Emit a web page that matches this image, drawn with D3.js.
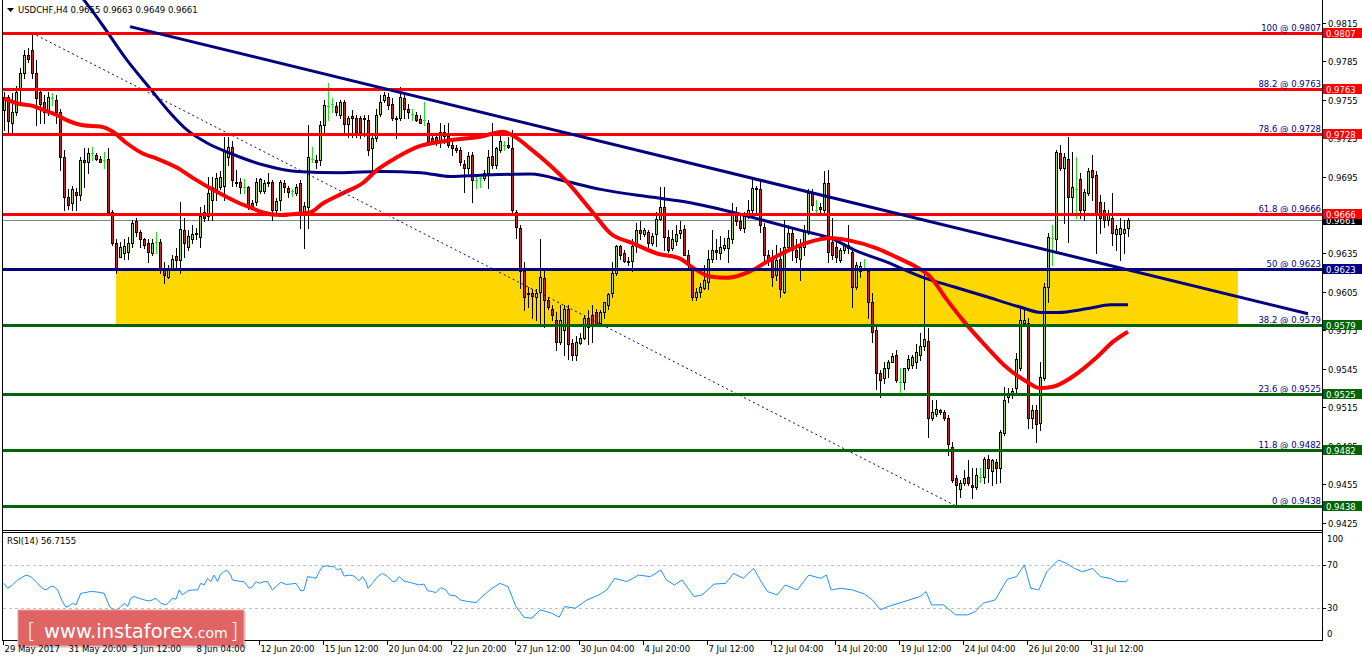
<!DOCTYPE html>
<html><head><meta charset="utf-8">
<script src="https://cdn.jsdelivr.net/npm/d3@7"></script>
<style>
html,body{margin:0;padding:0;background:#fff;overflow:hidden;}
svg{display:block;}
text{font-family:"DejaVu Sans",Verdana,sans-serif;font-size:8.5px;}
</style></head><body>
<svg id="c" width="1362" height="661"></svg>
<script>
// ---------------- data ----------------
const symbol = "USDCHF,H4";
const lastBar = [0.9655, 0.9663, 0.9649, 0.9661];
const opens = [0.9747,0.9757,0.9737,0.9745,0.9763,0.9776,0.9790,0.9794,0.9776,0.9761,
0.9753,0.9747,0.9756,0.9755,0.9745,0.9710,0.9679,0.9674,0.9683,0.9681,
0.9708,0.9706,0.9713,0.9712,0.9709,0.9708,0.9709,0.9667,0.9643,0.9632,
0.9635,0.9636,0.9643,0.9660,0.9652,0.9646,0.9643,0.9635,0.9644,0.9644,
0.9624,0.9617,0.9624,0.9633,0.9630,0.9653,0.9640,0.9646,0.9651,0.9648,
0.9667,0.9664,0.9677,0.9685,0.9687,0.9688,0.9710,0.9718,0.9691,0.9691,
0.9687,0.9687,0.9674,0.9675,0.9684,0.9684,0.9691,0.9691,0.9669,0.9677,
0.9690,0.9686,0.9684,0.9682,0.9690,0.9667,0.9671,0.9709,0.9708,0.9708,
0.9735,0.9750,0.9752,0.9750,0.9743,0.9753,0.9736,0.9742,0.9741,0.9741,
0.9741,0.9739,0.9717,0.9725,0.9744,0.9755,0.9757,0.9752,0.9741,0.9741,
0.9756,0.9748,0.9744,0.9743,0.9740,0.9739,0.9737,0.9725,0.9726,0.9722,
0.9730,0.9727,0.9720,0.9717,0.9716,0.9705,0.9702,0.9712,0.9692,0.9694,
0.9694,0.9698,0.9711,0.9704,0.9716,0.9720,0.9720,0.9717,0.9667,0.9655,
0.9621,0.9604,0.9604,0.9601,0.9605,0.9616,0.9599,0.9592,0.9583,0.9566,
0.9575,0.9592,0.9565,0.9556,0.9565,0.9569,0.9585,0.9587,0.9589,0.9581,
0.9589,0.9595,0.9604,0.9620,0.9641,0.9635,0.9629,0.9629,0.9641,0.9653,
0.9650,0.9652,0.9643,0.9650,0.9662,0.9671,0.9648,0.9639,0.9645,0.9651,
0.9654,0.9634,0.9622,0.9601,0.9605,0.9608,0.9613,0.9631,0.9638,0.9635,
0.9639,0.9639,0.9646,0.9667,0.9660,0.9655,0.9665,0.9669,0.9686,0.9685,
0.9656,0.9634,0.9630,0.9618,0.9631,0.9605,0.9640,0.9651,0.9638,0.9631,
0.9640,0.9652,0.9682,0.9669,0.9671,0.9669,0.9690,0.9644,0.9640,0.9630,
0.9638,0.9642,0.9636,0.9609,0.9621,0.9624,0.9621,0.9597,0.9575,0.9542,
0.9538,0.9546,0.9550,0.9556,0.9535,0.9535,0.9546,0.9548,0.9550,0.9556,
0.9563,0.9567,0.9507,0.9510,0.9513,0.9511,0.9507,0.9484,0.9460,0.9451,
0.9456,0.9461,0.9454,0.9453,0.9461,0.9461,0.9475,0.9465,0.9472,0.9468,
0.9495,0.9523,0.9525,0.9530,0.9546,0.9581,0.9581,0.9507,0.9513,0.9503,
0.9538,0.9609,0.9647,0.9646,0.9713,0.9702,0.9709,0.9679,0.9685,0.9693,
0.9669,0.9682,0.9700,0.9696,0.9675,0.9669,0.9661,0.9663,0.9650,0.9650,
0.9651,0.9655];
const highs = [0.9761,0.9759,0.9760,0.9766,0.9780,0.9794,0.9795,0.9807,0.9786,0.9764,
0.9759,0.9761,0.9760,0.9759,0.9748,0.9716,0.9685,0.9688,0.9686,0.9710,
0.9717,0.9717,0.9718,0.9713,0.9711,0.9714,0.9717,0.9669,0.9646,0.9644,
0.9646,0.9648,0.9661,0.9663,0.9653,0.9647,0.9646,0.9646,0.9652,0.9646,
0.9628,0.9626,0.9634,0.9639,0.9675,0.9663,0.9653,0.9657,0.9655,0.9671,
0.9673,0.9695,0.9695,0.9698,0.9699,0.9726,0.9726,0.9723,0.9700,0.9694,
0.9693,0.9688,0.9677,0.9694,0.9694,0.9692,0.9698,0.9692,0.9678,0.9692,
0.9692,0.9688,0.9685,0.9689,0.9692,0.9675,0.9735,0.9718,0.9712,0.9738,
0.9755,0.9768,0.9756,0.9753,0.9755,0.9755,0.9742,0.9747,0.9743,0.9742,
0.9743,0.9743,0.9727,0.9748,0.9759,0.9761,0.9760,0.9756,0.9742,0.9765,
0.9759,0.9752,0.9748,0.9745,0.9743,0.9753,0.9739,0.9727,0.9727,0.9737,
0.9735,0.9737,0.9722,0.9720,0.9718,0.9708,0.9714,0.9714,0.9695,0.9695,
0.9700,0.9716,0.9737,0.9718,0.9730,0.9723,0.9726,0.9731,0.9669,0.9657,
0.9628,0.9609,0.9607,0.9607,0.9646,0.9622,0.9601,0.9595,0.9589,0.9595,
0.9595,0.9595,0.9568,0.9571,0.9573,0.9587,0.9591,0.9595,0.9592,0.9591,
0.9597,0.9604,0.9628,0.9642,0.9642,0.9638,0.9632,0.9646,0.9659,0.9660,
0.9655,0.9653,0.9651,0.9667,0.9687,0.9687,0.9653,0.9653,0.9657,0.9660,
0.9657,0.9638,0.9624,0.9608,0.9612,0.9626,0.9638,0.9653,0.9646,0.9649,
0.9647,0.9653,0.9674,0.9671,0.9665,0.9667,0.9677,0.9692,0.9688,0.9692,
0.9659,0.9638,0.9638,0.9642,0.9639,0.9661,0.9657,0.9655,0.9646,0.9646,
0.9657,0.9685,0.9685,0.9677,0.9674,0.9699,0.9700,0.9663,0.9644,0.9639,
0.9643,0.9657,0.9639,0.9628,0.9628,0.9631,0.9624,0.9604,0.9579,0.9544,
0.9550,0.9552,0.9557,0.9560,0.9546,0.9546,0.9556,0.9556,0.9564,0.9573,
0.9621,0.9577,0.9521,0.9521,0.9514,0.9513,0.9509,0.9488,0.9462,0.9458,
0.9466,0.9474,0.9468,0.9468,0.9468,0.9476,0.9478,0.9475,0.9475,0.9497,
0.9531,0.9530,0.9530,0.9557,0.9593,0.9591,0.9585,0.9517,0.9517,0.9550,
0.9612,0.9651,0.9657,0.9716,0.9720,0.9713,0.9726,0.9714,0.9710,0.9698,
0.9685,0.9702,0.9712,0.9699,0.9681,0.9675,0.9669,0.9682,0.9657,0.9663,
0.9661,0.9663];
const lows = [0.9731,0.9730,0.9730,0.9743,0.9752,0.9772,0.9784,0.9772,0.9735,0.9737,
0.9737,0.9743,0.9751,0.9737,0.9700,0.9669,0.9670,0.9669,0.9669,0.9677,
0.9687,0.9698,0.9708,0.9708,0.9706,0.9702,0.9665,0.9642,0.9620,0.9632,
0.9631,0.9631,0.9640,0.9649,0.9640,0.9639,0.9628,0.9634,0.9635,0.9620,
0.9612,0.9616,0.9622,0.9624,0.9620,0.9632,0.9638,0.9643,0.9646,0.9640,
0.9660,0.9661,0.9661,0.9677,0.9685,0.9677,0.9704,0.9688,0.9688,0.9682,
0.9682,0.9670,0.9670,0.9673,0.9682,0.9682,0.9688,0.9661,0.9667,0.9669,
0.9683,0.9679,0.9680,0.9681,0.9655,0.9639,0.9655,0.9706,0.9702,0.9704,
0.9729,0.9739,0.9745,0.9743,0.9741,0.9730,0.9726,0.9726,0.9726,0.9725,
0.9727,0.9712,0.9699,0.9723,0.9742,0.9753,0.9748,0.9739,0.9725,0.9739,
0.9741,0.9741,0.9739,0.9738,0.9737,0.9735,0.9721,0.9722,0.9720,0.9718,
0.9721,0.9718,0.9712,0.9714,0.9704,0.9683,0.9698,0.9675,0.9686,0.9687,
0.9692,0.9686,0.9702,0.9702,0.9714,0.9716,0.9717,0.9667,0.9647,0.9608,
0.9591,0.9593,0.9585,0.9583,0.9579,0.9578,0.9592,0.9583,0.9560,0.9564,
0.9556,0.9553,0.9552,0.9552,0.9564,0.9568,0.9564,0.9566,0.9579,0.9579,
0.9585,0.9592,0.9601,0.9618,0.9631,0.9628,0.9626,0.9621,0.9636,0.9646,
0.9649,0.9638,0.9642,0.9641,0.9661,0.9638,0.9636,0.9638,0.9642,0.9647,
0.9634,0.9622,0.9599,0.9599,0.9601,0.9607,0.9607,0.9628,0.9631,0.9631,
0.9638,0.9628,0.9643,0.9657,0.9653,0.9652,0.9663,0.9667,0.9665,0.9652,
0.9628,0.9626,0.9610,0.9614,0.9601,0.9604,0.9638,0.9630,0.9628,0.9614,
0.9634,0.9650,0.9669,0.9665,0.9665,0.9667,0.9628,0.9631,0.9628,0.9628,
0.9635,0.9635,0.9593,0.9607,0.9617,0.9624,0.9585,0.9566,0.9529,0.9523,
0.9534,0.9539,0.9550,0.9535,0.9527,0.9529,0.9544,0.9546,0.9546,0.9552,
0.9560,0.9492,0.9505,0.9508,0.9510,0.9505,0.9478,0.9457,0.9438,0.9445,
0.9454,0.9454,0.9444,0.9451,0.9457,0.9456,0.9457,0.9454,0.9456,0.9457,
0.9493,0.9519,0.9522,0.9526,0.9544,0.9579,0.9499,0.9499,0.9488,0.9497,
0.9536,0.9597,0.9626,0.9638,0.9700,0.9659,0.9644,0.9665,0.9663,0.9663,
0.9661,0.9681,0.9677,0.9635,0.9651,0.9656,0.9657,0.9642,0.9638,0.9630,
0.9635,0.9649];
const closes = [0.9757,0.9738,0.9745,0.9761,0.9776,0.9790,0.9787,0.9776,0.9756,0.9752,
0.9745,0.9757,0.9756,0.9745,0.9710,0.9679,0.9673,0.9685,0.9681,0.9708,
0.9706,0.9713,0.9713,0.9709,0.9706,0.9708,0.9667,0.9643,0.9624,0.9640,
0.9641,0.9643,0.9659,0.9652,0.9646,0.9642,0.9636,0.9643,0.9644,0.9624,
0.9618,0.9624,0.9631,0.9630,0.9654,0.9643,0.9649,0.9650,0.9650,0.9664,
0.9663,0.9682,0.9687,0.9694,0.9695,0.9716,0.9718,0.9692,0.9690,0.9687,
0.9687,0.9671,0.9671,0.9691,0.9693,0.9690,0.9690,0.9669,0.9676,0.9691,
0.9687,0.9683,0.9684,0.9687,0.9667,0.9672,0.9710,0.9709,0.9706,0.9735,
0.9751,0.9750,0.9752,0.9745,0.9753,0.9736,0.9741,0.9741,0.9730,0.9730,
0.9740,0.9716,0.9725,0.9743,0.9753,0.9759,0.9751,0.9741,0.9740,0.9757,
0.9748,0.9745,0.9744,0.9739,0.9737,0.9739,0.9722,0.9723,0.9721,0.9730,
0.9727,0.9720,0.9717,0.9716,0.9706,0.9702,0.9711,0.9692,0.9692,0.9694,
0.9698,0.9710,0.9704,0.9717,0.9723,0.9720,0.9718,0.9669,0.9656,0.9621,
0.9601,0.9603,0.9602,0.9604,0.9617,0.9599,0.9593,0.9587,0.9566,0.9583,
0.9592,0.9564,0.9556,0.9566,0.9569,0.9585,0.9578,0.9579,0.9579,0.9589,
0.9597,0.9603,0.9620,0.9641,0.9634,0.9629,0.9628,0.9641,0.9653,0.9651,
0.9653,0.9643,0.9649,0.9662,0.9671,0.9648,0.9638,0.9646,0.9650,0.9653,
0.9634,0.9626,0.9601,0.9605,0.9609,0.9614,0.9631,0.9638,0.9636,0.9640,
0.9642,0.9647,0.9667,0.9660,0.9655,0.9665,0.9669,0.9686,0.9685,0.9657,
0.9634,0.9630,0.9617,0.9630,0.9607,0.9640,0.9651,0.9638,0.9632,0.9640,
0.9653,0.9682,0.9673,0.9669,0.9670,0.9690,0.9636,0.9634,0.9632,0.9638,
0.9642,0.9639,0.9609,0.9626,0.9625,0.9624,0.9597,0.9574,0.9542,0.9536,
0.9546,0.9550,0.9555,0.9536,0.9535,0.9546,0.9553,0.9554,0.9558,0.9563,
0.9568,0.9507,0.9511,0.9514,0.9511,0.9507,0.9486,0.9458,0.9454,0.9456,
0.9460,0.9456,0.9453,0.9462,0.9461,0.9475,0.9468,0.9474,0.9468,0.9496,
0.9521,0.9525,0.9528,0.9553,0.9583,0.9583,0.9507,0.9513,0.9502,0.9539,
0.9609,0.9648,0.9647,0.9714,0.9702,0.9710,0.9679,0.9687,0.9685,0.9669,
0.9683,0.9699,0.9695,0.9665,0.9663,0.9661,0.9665,0.9651,0.9654,0.9655,
0.9654,0.9661];

// moving averages: [bar index, price]
const fastMA = [[0,0.9756],[3.4,0.9752],[7.4,0.9750],[9.8,0.9747],[13.2,0.9743],[15.7,0.9739],[19.7,0.9735],[24,0.9734],[27.2,0.9730],[30.7,0.9721],[34.7,0.9713],[38.2,0.9709],[43.2,0.9702],[47.2,0.9694],[51.5,0.9686],[55.7,0.9679],[59,0.9674],[61.5,0.9671],[64.7,0.9667],[69,0.9665],[73.2,0.9666],[76.5,0.9667],[79.7,0.9674],[84.7,0.9682],[89.7,0.9690],[93.2,0.9700],[98.2,0.9710],[103.2,0.9718],[110.7,0.9723],[119,0.9726],[124.7,0.9730],[127.2,0.9727],[131.5,0.9717],[140.7,0.9691],[147.2,0.9667],[151.5,0.9651],[157.2,0.9643],[163.2,0.9635],[169,0.9631],[172.2,0.9624],[176.5,0.9617],[180.7,0.9616],[186.5,0.9621],[191.5,0.9630],[196.5,0.9638],[201.5,0.9644],[206.5,0.9647],[211.5,0.9645],[218.2,0.9639],[223.2,0.9632],[227.2,0.9626],[231.5,0.9617],[235.7,0.9599],[239.7,0.9583],[245.7,0.9562],[250.7,0.9546],[255.7,0.9535],[259,0.9530],[262.2,0.9531],[267.2,0.9539],[273.2,0.9554],[277.2,0.9566],[281,0.9574]];
const slowMA = [[17.7,0.9841],[19.9,0.9833],[24.2,0.9815],[30.7,0.9786],[36.7,0.9763],[40.9,0.9747],[45.9,0.9731],[50.9,0.9721],[56.7,0.9713],[64.9,0.9704],[73.2,0.9699],[84.2,0.9698],[94.2,0.9699],[104.2,0.9698],[111.7,0.9695],[119.2,0.9696],[131.7,0.9697],[140.9,0.9691],[149.2,0.9685],[161.7,0.9679],[170.9,0.9675],[182.4,0.9667],[190.9,0.9660],[199.2,0.9653],[207.4,0.9646],[212.4,0.9638],[220.9,0.9628],[229.2,0.9617],[237.4,0.9609],[245.9,0.9601],[254.2,0.9593],[259.2,0.9589],[263.4,0.9589],[270.9,0.9592],[276.7,0.9595],[281,0.9595]];

// RSI(14): [bar index, value]
const rsiPoints = [[0,53.0],[0.9,48.3],[2.1,51.4],[3.4,56.1],[5.5,60.7],[6.7,59.2],[8.4,53.0],[9.6,48.3],[10.5,46.8],[11.7,49.9],[12.5,49.9],[13.4,46.8],[14.6,35.9],[15.5,30.6],[16.3,31.9],[17.1,34.4],[18,32.8],[19.2,43.7],[20.5,44.3],[21.3,45.2],[22.5,45.2],[24.2,44.3],[25,43.7],[25.7,37.5],[26.5,30.6],[27.5,28.1],[28.4,28.1],[29.2,31.3],[30.2,34.4],[30.9,31.3],[31.7,39.0],[32.5,40.6],[33.8,39.0],[35,37.5],[36.3,36.5],[37.1,37.5],[38,39.0],[39.2,34.4],[40.5,32.8],[41.3,35.9],[42.1,39.0],[43,38.1],[43.8,46.8],[44.6,42.1],[45.9,45.8],[47.1,46.8],[48.4,46.8],[49.2,53.0],[50,51.4],[50.9,57.6],[51.7,54.5],[52.5,60.7],[53.4,54.5],[54,60.7],[54.9,63.8],[55.7,65.4],[56.7,60.7],[57.1,56.1],[58.4,55.1],[60,54.5],[61.3,48.3],[62.1,49.9],[63,54.5],[63.8,53.0],[65,54.5],[65.9,54.5],[67.1,46.8],[68,49.9],[69.2,53.9],[70.5,52.0],[71.7,52.3],[73,53.0],[74.2,45.8],[75,46.8],[75.9,59.2],[77.1,58.5],[78,57.6],[78.8,63.8],[79.6,68.5],[80.7,69.4],[81.7,68.5],[82.5,68.5],[83.4,65.4],[84.2,66.9],[85,59.8],[86.3,60.7],[87.5,59.8],[88.8,55.4],[89.6,59.2],[90.5,54.5],[91,48.3],[92.1,53.0],[93.4,59.2],[94.6,62.3],[95.9,59.2],[97.1,54.5],[98,55.1],[98.8,59.2],[100,55.1],[101.7,53.6],[103.8,51.4],[105,52.3],[105.9,46.2],[107.1,45.2],[108,44.3],[109.2,48.9],[110.5,46.8],[111.3,42.1],[113,41.2],[114,37.5],[116,35.9],[118,35.0],[120,42.1],[122,48.3],[124,52.9],[126,49.9],[128,31.3],[130,21.3],[132,20.4],[134,28.2],[136.9,25.1],[138.8,21.3],[140.2,31.3],[142.8,29.7],[145.8,37.5],[148.7,42.1],[150.7,46.8],[152.7,57.6],[155.7,54.5],[158.6,60.7],[161.6,59.2],[164.2,65.4],[165.6,56.1],[167.6,51.4],[169.5,56.1],[172.5,40.6],[174.5,42.1],[177.5,52.3],[180.4,52.9],[182.4,62.3],[184.8,57.6],[187.4,66.9],[189.3,54.5],[190.9,45.2],[193.3,42.1],[195.3,51.4],[198.3,46.8],[201.2,60.7],[204.2,57.6],[205.6,60.7],[206.8,46.8],[209.2,48.3],[212.1,46.8],[215.1,43.0],[217.1,37.5],[219.1,28.2],[221,31.3],[225,35.9],[229,40.6],[230.5,45.2],[231.9,32.8],[234.9,32.8],[237.9,23.5],[240.9,23.5],[242.8,26.6],[244.8,34.4],[247.8,37.5],[250.8,56.7],[253.1,59.2],[255.1,70.0],[256.7,48.3],[258.7,46.8],[260.7,63.8],[263.6,74.7],[265.6,71.6],[267.6,66.9],[269.6,63.8],[272.2,66.9],[274.1,59.2],[276.5,57.6],[278.5,54.5],[280.5,54.5],[281,56.7]];
const rsiLast = "56.7155";

const fibRatios = ["100","88.2","78.6","61.8","50","38.2","23.6","11.8","0"];
const fibPrices = [0.9807,0.9763,0.9728,0.9666,0.9623,0.9579,0.9525,0.9482,0.9438];
const fibAnchors = [[7,0.9807],[238,0.9438]];
const trendLine = [[31.5,0.9812],[326,0.9588]];
const zoneBars = [28,308.5];
const zonePrices = [0.9623,0.9579];
const bidPrice = 0.9661;

const priceTicks = [0.9815,0.9785,0.9755,0.9725,0.9695,0.9665,0.9635,0.9605,0.9575,0.9545,0.9515,0.9485,0.9455,0.9425];
const timeTickBars = [0,16,32,48,64,80,96,112,128,144,160,176,192,208,224,240,256,272];
const timeTickLabels = ["29 May 2017","31 May 20:00","5 Jun 12:00","8 Jun 04:00","12 Jun 20:00","15 Jun 12:00","20 Jun 04:00","22 Jun 20:00","27 Jun 12:00","30 Jun 04:00","4 Jul 20:00","7 Jul 12:00","12 Jul 04:00","14 Jul 20:00","19 Jul 12:00","24 Jul 04:00","26 Jul 20:00","31 Jul 12:00"];
const rsiTicks = [100,70,30,0];
const rsiLevels = [70,30];

// ---------------- styles ----------------
const fibColors = ["#ff0000","#ff0000","#ff0000","#ff0000","#000080","#006400","#006400","#006400","#006400"];
const BULL = "#a6d84a", BEAR = "#cc2222", DOJI = "#22dd22";

// ---------------- drawing ----------------
const svg = d3.select("#c");
const L = 3, R = 1322, MB = 530, RT = 533, RB = 640;
const x = d3.scaleLinear().domain([0, 281]).range([4, 1128]);
const y = d3.scaleLinear().domain([0.9807, 0.9438]).range([33, 506]);
const yr = d3.scaleLinear().domain([0, 100]).range([640, 533]);
const px = v => Math.round(v);

svg.append("rect").attr("width",1362).attr("height",661).attr("fill","#fff");
const defs = svg.append("defs");
defs.append("clipPath").attr("id","cm").append("rect").attr("x",L).attr("y",0).attr("width",R-L).attr("height",MB);
defs.append("clipPath").attr("id","cr").append("rect").attr("x",L).attr("y",RT).attr("width",R-L).attr("height",RB-RT);

const gm = svg.append("g").attr("clip-path","url(#cm)");

// zone
gm.append("rect")
  .attr("x", x(zoneBars[0])).attr("width", x(zoneBars[1]) - x(zoneBars[0]))
  .attr("y", y(zonePrices[0])).attr("height", y(zonePrices[1]) - y(zonePrices[0]))
  .attr("fill", "#ffd700");

// bid line
gm.append("line").attr("x1",L).attr("x2",R)
  .attr("y1",px(y(bidPrice))+0.5).attr("y2",px(y(bidPrice))+0.5)
  .attr("stroke","#778899").attr("stroke-width",1);

// candles
const bars = d3.range(opens.length).map(i => ({i, o:opens[i], h:highs[i], l:lows[i], c:closes[i]}));
const gc = gm.append("g").attr("shape-rendering","crispEdges");
bars.forEach(b => {
  const cx = px(x(b.i));
  const top = px(y(b.h)), bot = px(y(b.l));
  if (b.o === b.c) {
    gc.append("rect").attr("x",cx).attr("y",top).attr("width",1).attr("height",bot-top+1).attr("fill",DOJI);
    gc.append("rect").attr("x",cx-1).attr("y",px(y(b.o))).attr("width",3).attr("height",1).attr("fill",DOJI);
    return;
  }
  gc.append("rect").attr("x",cx).attr("y",top).attr("width",1).attr("height",bot-top+1).attr("fill","#000");
  const bt = px(y(Math.max(b.o,b.c))), bb = px(y(Math.min(b.o,b.c)));
  gc.append("rect").attr("x",cx-1).attr("y",bt).attr("width",3).attr("height",Math.max(1,bb-bt+1)).attr("fill","#000");
  if (bb - bt - 1 > 0)
    gc.append("rect").attr("x",cx).attr("y",bt+1).attr("width",1).attr("height",bb-bt-1).attr("fill", b.c > b.o ? BULL : BEAR);
});

// moving averages
const maLine = d3.line().x(d => x(d[0])).y(d => y(d[1])).curve(d3.curveMonotoneX);
gm.append("path").attr("d", maLine(slowMA)).attr("fill","none").attr("stroke","#000080").attr("stroke-width",3);
gm.append("path").attr("d", maLine(fastMA)).attr("fill","none").attr("stroke","#ff0000").attr("stroke-width",4);

// fib diagonal
gm.append("line")
  .attr("x1", x(fibAnchors[0][0])).attr("y1", y(fibAnchors[0][1]))
  .attr("x2", x(fibAnchors[1][0])).attr("y2", y(fibAnchors[1][1]))
  .attr("stroke","#000080").attr("stroke-width",1).attr("stroke-dasharray","2,3");

// fib horizontal levels
fibPrices.forEach((p, k) => {
  const yy = px(y(p)) + 0.5;
  gm.append("line").attr("x1",L).attr("x2",R).attr("y1",yy).attr("y2",yy)
    .attr("stroke", fibColors[k]).attr("stroke-width",3);
  gm.append("text").attr("x", R-1).attr("y", yy-3).attr("text-anchor","end")
    .attr("fill","#000080").text(fibRatios[k] + " @ " + p.toFixed(4));
});

// trend line
gm.append("line")
  .attr("x1", x(trendLine[0][0])).attr("y1", y(trendLine[0][1]))
  .attr("x2", x(trendLine[1][0])).attr("y2", y(trendLine[1][1]))
  .attr("stroke","#000080").attr("stroke-width",3);

// header
svg.append("path").attr("d","M7,8 L14,8 L10.5,12 Z").attr("fill","#000");
svg.append("text").attr("x",18).attr("y",13).attr("fill","#000")
  .text(symbol + "  " + lastBar.map(v => v.toFixed(4)).join(" "));

// frame
const fr = svg.append("g").attr("stroke","#000").attr("stroke-width",1).attr("shape-rendering","crispEdges");
fr.append("line").attr("x1",2.5).attr("x2",2.5).attr("y1",0).attr("y2",RB+0.5);
fr.append("line").attr("x1",R+0.5).attr("x2",R+0.5).attr("y1",0).attr("y2",RB+0.5);
fr.append("line").attr("x1",2.5).attr("x2",R+0.5).attr("y1",MB+0.5).attr("y2",MB+0.5);
fr.append("line").attr("x1",2.5).attr("x2",R+0.5).attr("y1",RT-0.5).attr("y2",RT-0.5);
fr.append("line").attr("x1",2.5).attr("x2",R+0.5).attr("y1",RB+0.5).attr("y2",RB+0.5);

// price axis
priceTicks.forEach(p => {
  const yy = px(y(p)) + 0.5;
  fr.append("line").attr("x1",R).attr("x2",R+4).attr("y1",yy).attr("y2",yy);
  svg.append("text").attr("x",R+6).attr("y",yy+3).attr("fill","#000").text(p.toFixed(4));
});
function tag(p, color) {
  const yy = px(y(p));
  svg.append("rect").attr("x",R+1).attr("y",yy-5).attr("width",39).attr("height",10).attr("fill",color);
  svg.append("text").attr("x",R+4).attr("y",yy+3.5).attr("fill","#fff").text(p.toFixed(4));
}
tag(bidPrice, "#000");
fibPrices.forEach((p,k) => tag(p, fibColors[k]));

// RSI panel
const gr = svg.append("g").attr("clip-path","url(#cr)");
rsiLevels.forEach(v => {
  gr.append("line").attr("x1",L).attr("x2",R).attr("y1",px(yr(v))+0.5).attr("y2",px(yr(v))+0.5)
    .attr("stroke","#c0c0c0").attr("stroke-dasharray","3,3");
});
gr.append("path").attr("d", d3.line().x(d => x(d[0])).y(d => yr(d[1]))(rsiPoints))
  .attr("fill","none").attr("stroke","#1e90ff").attr("stroke-width",1);
svg.append("text").attr("x",7).attr("y",544).attr("fill","#000").text("RSI(14) " + rsiLast);
rsiTicks.forEach(v => {
  const yy = Math.min(Math.max(yr(v), 539), 634);
  svg.append("text").attr("x",R+5).attr("y",yy+3).attr("fill","#000").text(v);
  if (v === 70 || v === 30) fr.append("line").attr("x1",R).attr("x2",R+4).attr("y1",px(yr(v))+0.5).attr("y2",px(yr(v))+0.5);
});

// watermark
const wm = svg.append("g");
wm.append("rect").attr("x",20).attr("y",612).attr("width",226).attr("height",36).attr("fill","#000").attr("opacity",0.15);
wm.append("rect").attr("x",18).attr("y",610).attr("width",226).attr("height",36).attr("fill","#e06464").attr("stroke","#f0a0a0").attr("stroke-width",1);
const wt = wm.append("text").attr("y",638).attr("fill","#fff").style("font-family","'DejaVu Sans',sans-serif");
wt.append("tspan").attr("x",27).style("font-size","22px").style("font-weight","200").text("[");
wt.append("tspan").attr("x",44).style("font-size","19.5px").text("www.instaforex");
wt.append("tspan").style("font-size","14px").text(".com");
wt.append("tspan").attr("x",230).style("font-size","22px").style("font-weight","200").text("]");

// time axis
timeTickBars.forEach((bi, k) => {
  const xx = px(x(bi)) - 1 + 0.5;
  fr.append("line").attr("x1",xx).attr("x2",xx).attr("y1",RB).attr("y2",RB+5);
  svg.append("text").attr("x",xx+1).attr("y",652).attr("fill","#000").text(timeTickLabels[k]);
});
</script>
</body></html>
